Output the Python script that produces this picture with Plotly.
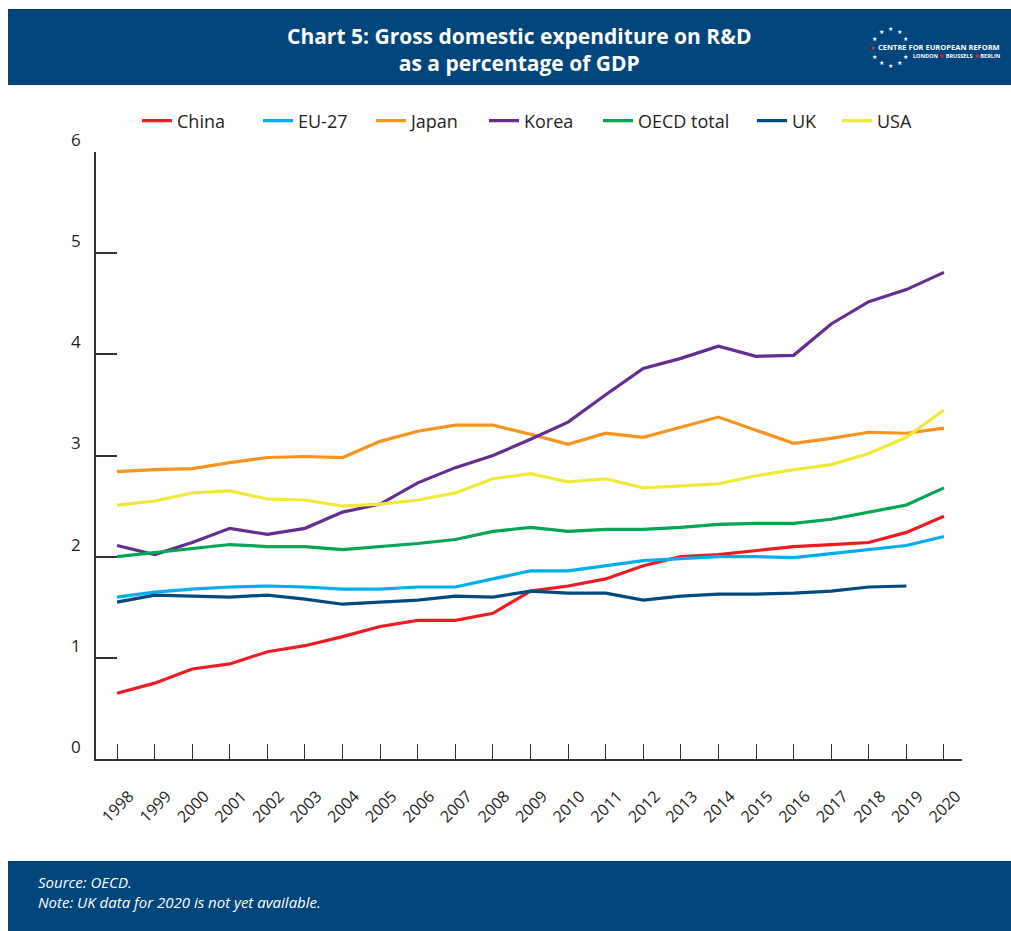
import math
import plotly.graph_objects as go

years = list(range(1998, 2021))

china = [0.65, 0.75, 0.89, 0.94, 1.06, 1.12, 1.21, 1.31, 1.37, 1.37, 1.44, 1.66,
         1.71, 1.78, 1.91, 2.00, 2.02, 2.06, 2.10, 2.12, 2.14, 2.24, 2.40]
eu27 = [1.60, 1.65, 1.68, 1.70, 1.71, 1.70, 1.68, 1.68, 1.70, 1.70, 1.78, 1.86,
        1.86, 1.91, 1.96, 1.98, 2.00, 2.00, 1.99, 2.03, 2.07, 2.11, 2.20]
japan = [2.84, 2.86, 2.87, 2.93, 2.98, 2.99, 2.98, 3.14, 3.24, 3.30, 3.30, 3.21,
         3.11, 3.22, 3.18, 3.28, 3.38, 3.25, 3.12, 3.17, 3.23, 3.22, 3.27]
korea = [2.11, 2.02, 2.14, 2.28, 2.22, 2.28, 2.44, 2.52, 2.73, 2.88, 3.00, 3.16,
         3.33, 3.60, 3.86, 3.96, 4.08, 3.98, 3.99, 4.30, 4.52, 4.64, 4.81]
oecd = [2.00, 2.04, 2.08, 2.12, 2.10, 2.10, 2.07, 2.10, 2.13, 2.17, 2.25, 2.29,
        2.25, 2.27, 2.27, 2.29, 2.32, 2.33, 2.33, 2.37, 2.44, 2.51, 2.68]
uk = [1.55, 1.62, 1.61, 1.60, 1.62, 1.58, 1.53, 1.55, 1.57, 1.61, 1.60, 1.66,
      1.64, 1.64, 1.57, 1.61, 1.63, 1.63, 1.64, 1.66, 1.70, 1.71, None]
usa = [2.51, 2.55, 2.63, 2.65, 2.57, 2.56, 2.50, 2.52, 2.56, 2.63, 2.77, 2.82,
       2.74, 2.77, 2.68, 2.70, 2.72, 2.80, 2.86, 2.91, 3.02, 3.18, 3.45]

# name, values, colour, legend entry width (px)
series = [
    ("China", china, "#ed1c24", 76),
    ("EU-27", eu27, "#00aeef", 68),
    ("Japan", japan, "#f7941d", 68),
    ("Korea", korea, "#662d91", 69),
    ("OECD total", oecd, "#00a651", 109),
    ("UK", uk, "#004a80", 40),
    ("USA", usa, "#f1e93a", 50),
]

W, H = 1011, 931
L, R, T, B = 96, 962, 152, 759  # plot area in pixels
NAVY = "#00457c"
AXIS = "#333333"


def px(x):
    return (x - L) / (R - L)


def py(y):
    return (B - y) / (B - T)


fig = go.Figure()
for name, vals, col, lw in series:
    fig.add_trace(go.Scatter(
        x=years, y=vals, name=name, mode="lines",
        line=dict(color=col, width=3.2),
        connectgaps=False, legendwidth=lw,
    ))

shapes = [
    # header band
    dict(type="rect", xref="paper", yref="paper",
         x0=px(8), x1=px(1011), y0=py(9), y1=py(85),
         fillcolor=NAVY, line_width=0, layer="below"),
    # footer band
    dict(type="rect", xref="paper", yref="paper",
         x0=px(8), x1=px(1011), y0=py(861), y1=py(931),
         fillcolor=NAVY, line_width=0, layer="below"),
]

annotations = [
    dict(text="<b>Chart 5: Gross domestic expenditure on R&D<br>as a percentage of GDP</b>",
         xref="paper", yref="paper", x=px(519), y=py(50),
         xanchor="center", yanchor="middle", showarrow=False,
         font=dict(family="Open Sans", size=21, color="white"), align="center"),
    dict(text="<i>Source: OECD.<br>Note: UK data for 2020 is not yet available.</i>",
         xref="paper", yref="paper", x=px(36), y=py(892),
         xanchor="left", yanchor="middle", showarrow=False,
         font=dict(family="Open Sans", size=15, color="white"), align="left"),
    dict(text="<b>CENTRE FOR EUROPEAN REFORM</b>",
         xref="paper", yref="paper", x=px(1002), y=py(47),
         xanchor="right", yanchor="middle", showarrow=False,
         font=dict(family="Open Sans", size=7.5, color="white")),
    dict(text="<b>LONDON <span style='color:#ed1c24'>★</span> BRUSSELS "
              "<span style='color:#ed1c24'>★</span> BERLIN</b>",
         xref="paper", yref="paper", x=px(1002), y=py(56),
         xanchor="right", yanchor="middle", showarrow=False,
         font=dict(family="Open Sans", size=5.5, color="white")),
]

# ring of stars in the logo
cx, cy, rad = 890, 47, 18
for k in range(1, 12):
    ang = math.radians(30 * k)
    sx = cx + rad * math.cos(ang)
    sy = cy - rad * math.sin(ang)
    annotations.append(dict(
        text="★", xref="paper", yref="paper", x=px(sx), y=py(sy),
        xanchor="center", yanchor="middle", showarrow=False,
        font=dict(family="DejaVu Sans", size=6,
                  color="#ed1c24" if k == 6 else "white")))

fig.update_layout(
    width=W, height=H,
    margin=dict(l=L, r=W - R, t=T, b=H - B, pad=0),
    paper_bgcolor="white", plot_bgcolor="white",
    showlegend=True,
    legend=dict(orientation="h", x=px(137), y=py(121), xanchor="left", yanchor="middle",
                font=dict(family="Open Sans", size=18, color="#231f20"),
                itemwidth=30, tracegroupgap=0, bgcolor="rgba(0,0,0,0)"),
    shapes=shapes,
    annotations=annotations,
    xaxis=dict(range=[1997.44, 2020.48], tickvals=years, ticktext=[str(y) for y in years],
               tickangle=-45, ticks="inside", ticklen=15, tickwidth=1.2, tickcolor=AXIS,
               showline=True, linecolor=AXIS, linewidth=1.5, showgrid=False, zeroline=False,
               tickfont=dict(family="Open Sans", size=16, color="#231f20"),
               ticklabelstandoff=20, ticklabelshift=12, fixedrange=True),
    yaxis=dict(range=[0, 6], tickvals=[0, 1, 2, 3, 4, 5, 6], ticks="inside", ticklen=21,
               tickwidth=1.5, tickcolor=AXIS, showline=True, linecolor=AXIS, linewidth=1.5,
               showgrid=False, zeroline=False,
               tickfont=dict(family="Open Sans", size=17, color="#231f20"),
               ticklabelstandoff=10, ticklabelshift=-12, fixedrange=True),
)

fig.write_html("out.html")
